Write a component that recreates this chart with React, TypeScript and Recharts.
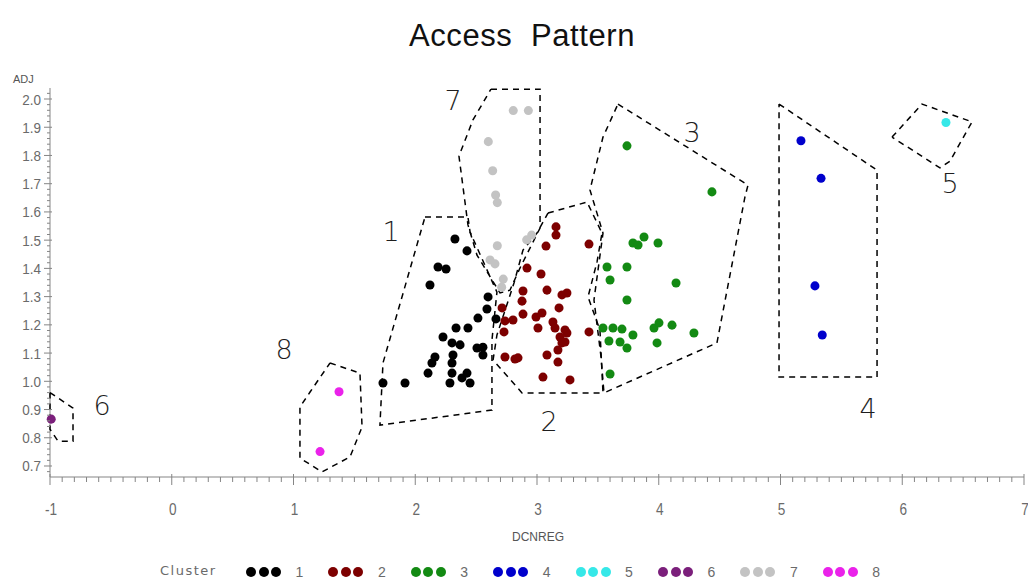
import React from 'react';
import { ScatterChart, Scatter, XAxis, YAxis, ZAxis } from 'recharts';

type Pt = [number, number];

// Cluster identifiers and their marker colours
const clusterNames = ['1', '2', '3', '4', '5', '6', '7', '8'];
const clusterColors = ['#000000', '#7d0000', '#138a13', '#0000cc', '#36e8e8', '#7b1f7b', '#c3c3c3', '#ea22ea'];

// Observations per cluster: [DCNREG, ADJ]
const cluster1: Pt[] = [
  [2.326, 1.504], [2.425, 1.462], [2.187, 1.405], [2.253, 1.398], [2.121, 1.341], [2.598, 1.299],
  [2.589, 1.256], [2.515, 1.224], [2.663, 1.221], [2.335, 1.189], [2.433, 1.189], [2.228, 1.157],
  [2.302, 1.136], [2.368, 1.129], [2.507, 1.118], [2.556, 1.121], [2.31, 1.093], [2.556, 1.093],
  [2.162, 1.086], [2.137, 1.065], [2.302, 1.065], [2.105, 1.029], [2.302, 1.029], [2.425, 1.029],
  [2.384, 1.012], [2.285, 0.994], [2.45, 0.994], [1.916, 0.994], [1.735, 0.994],
];
const cluster2: Pt[] = [
  [3.156, 1.547], [3.156, 1.518], [3.074, 1.479], [3.427, 1.486], [2.918, 1.401], [3.033, 1.38],
  [3.082, 1.323], [2.885, 1.32], [3.205, 1.306], [3.246, 1.313], [2.877, 1.284], [3.181, 1.26],
  [2.713, 1.26], [2.885, 1.238], [3.041, 1.242], [2.992, 1.228], [2.737, 1.214], [2.803, 1.217],
  [3.131, 1.21], [3.008, 1.189], [2.729, 1.175], [3.148, 1.189], [3.23, 1.182], [3.189, 1.157],
  [3.246, 1.171], [3.427, 1.175], [3.205, 1.136], [3.23, 1.139], [3.172, 1.111], [2.737, 1.086],
  [2.819, 1.079], [2.844, 1.083], [3.082, 1.093], [3.172, 1.068], [3.049, 1.015], [3.271, 1.005],
];
const cluster3: Pt[] = [
  [3.739, 1.834], [4.437, 1.671], [3.788, 1.49], [3.83, 1.483], [3.879, 1.511], [3.994, 1.49],
  [3.575, 1.405], [3.739, 1.405], [3.6, 1.359], [4.142, 1.348], [3.739, 1.288], [3.542, 1.189],
  [3.624, 1.189], [3.698, 1.185], [3.788, 1.164], [3.961, 1.189], [4.002, 1.207], [4.109, 1.199],
  [4.289, 1.171], [3.591, 1.143], [3.682, 1.139], [3.739, 1.118], [3.986, 1.136], [3.6, 1.026],
];
const cluster4: Pt[] = [[5.168, 1.852], [5.333, 1.719], [5.283, 1.338], [5.343, 1.164]];
const cluster5: Pt[] = [[6.359, 1.917]];
const cluster6: Pt[] = [[-0.99, 0.866]];
const cluster7: Pt[] = [
  [2.805, 1.959], [2.929, 1.959], [2.6, 1.849], [2.636, 1.746], [2.674, 1.633], [2.66, 1.66],
  [2.674, 1.48], [2.956, 1.518], [2.915, 1.501], [2.614, 1.43], [2.655, 1.416], [2.723, 1.362],
  [2.71, 1.333],
];
const cluster8: Pt[] = [[1.374, 0.963], [1.218, 0.751]];

// Dashed outlines around each cluster
const hull1: Pt[] = [
  [2.08, 1.582], [2.433, 1.582], [2.45, 1.529], [2.671, 1.316], [2.63, 1.146], [2.63, 0.898],
  [1.71, 0.845], [1.735, 1.065],
];
const hull2: Pt[] = [
  [3.09, 1.596], [3.411, 1.635], [3.534, 1.525], [3.493, 1.423], [3.419, 1.299], [3.517, 1.182],
  [3.542, 0.959], [2.877, 0.959], [2.639, 1.075], [2.671, 1.164], [2.811, 1.348], [2.885, 1.465],
  [3.0, 1.525],
];
const hull3: Pt[] = [
  [3.665, 1.982], [4.733, 1.695], [4.708, 1.653], [4.478, 1.136], [3.55, 0.959], [3.526, 1.086],
  [3.468, 1.288], [3.542, 1.525], [3.435, 1.678], [3.542, 1.865],
];
const hull4: Pt[] = [[4.988, 1.982], [5.793, 1.748], [5.793, 1.015], [4.988, 1.015]];
const hull5: Pt[] = [[5.916, 1.865], [6.162, 1.982], [6.573, 1.919], [6.392, 1.78], [6.31, 1.756]];
const hull6: Pt[] = [[-1.0, 0.96], [-0.811, 0.905], [-0.811, 0.788], [-0.934, 0.788], [-1.0, 0.83]];
const hull7: Pt[] = [
  [2.622, 2.035], [3.025, 2.035], [3.025, 1.543], [2.86, 1.401], [2.778, 1.323], [2.696, 1.313],
  [2.507, 1.447], [2.433, 1.554], [2.359, 1.798], [2.474, 1.926],
];
const hull8: Pt[] = [
  [1.3, 1.065], [1.546, 1.029], [1.563, 0.838], [1.464, 0.732], [1.234, 0.679], [1.053, 0.728],
  [1.053, 0.909], [1.136, 0.962],
];

// Where each cluster number is written
const tagPositions: Pt[] = [
  [1.801, 1.529], [3.099, 0.856], [4.273, 1.88], [5.719, 0.905],
  [6.392, 1.702], [-0.573, 0.916], [2.31, 1.996], [0.922, 1.111],
];

const clusterPoints = [cluster1, cluster2, cluster3, cluster4, cluster5, cluster6, cluster7, cluster8];
const clusterHulls = [hull1, hull2, hull3, hull4, hull5, hull6, hull7, hull8];

const xMajorTicks = [-1, 0, 1, 2, 3, 4, 5, 6, 7];
const yMajorTicks = [0.7, 0.8, 0.9, 1.0, 1.1, 1.2, 1.3, 1.4, 1.5, 1.6, 1.7, 1.8, 1.9, 2.0];

// Minor tick positions: tenths along x, fiftieths along y
const xTicks: number[] = [];
for (let k = -10; k <= 70; k++) xTicks.push(k / 10);
const yTicks: number[] = [];
for (let k = 34; k <= 101; k++) yTicks.push(Math.round(k * 2) / 100);

const isMajor = (list: number[], v: number) => list.some((m) => Math.abs(m - v) < 1e-6);

const AXIS_GREY = '#858585';
const LABEL_GREY = '#6a6a6a';
const TICK_FONT = "'Liberation Sans', Arial, sans-serif";

const XTick = (props: any) => {
  const { x, y, payload } = props;
  const major = isMajor(xMajorTicks, payload.value);
  return (
    <g>
      <line x1={x} x2={x} y1={major ? y - 3 : y} y2={y + (major ? 8 : 5)} stroke={AXIS_GREY} strokeWidth={1} />
      {major && (
        <text
          transform={`translate(${x + 1},${y + 38}) scale(0.8,1)`}
          textAnchor="middle"
          fontSize={17}
          fontFamily={TICK_FONT}
          fill={LABEL_GREY}
        >
          {Math.round(payload.value)}
        </text>
      )}
    </g>
  );
};

const YTick = (props: any) => {
  const { x, y, payload } = props;
  const major = isMajor(yMajorTicks, payload.value);
  return (
    <g>
      <line x1={x - (major ? 6 : 3)} x2={major ? x + 2 : x} y1={y} y2={y} stroke={AXIS_GREY} strokeWidth={1} />
      {major && (
        <text
          transform={`translate(${x - 9},${y + 5.5}) scale(0.9,1)`}
          textAnchor="end"
          fontSize={15}
          fontFamily={TICK_FONT}
          fill={LABEL_GREY}
        >
          {payload.value.toFixed(1)}
        </text>
      )}
    </g>
  );
};

const NoMark = () => <g />;

const NumberTag = (props: any) => (
  <text
    x={props.cx}
    y={props.cy}
    textAnchor="middle"
    dominantBaseline="central"
    fontSize={27}
    fontFamily="'DejaVu Sans', 'Liberation Sans', sans-serif"
    fontWeight={300}
    fill="#1e1e1e"
  >
    {props.payload.tag}
  </text>
);

const toRows = (pts: Pt[]) => pts.map(([x, y]) => ({ x, y }));
const closeRing = (pts: Pt[]) => toRows([...pts, pts[0]]);

export default function App() {
  const tagRows = tagPositions.map(([x, y], i) => ({ x, y, tag: clusterNames[i] }));

  return (
    <div style={{ position: 'absolute', left: 0, top: 0, width: 1028, height: 582, background: '#fff' }}>
      <div
        style={{
          position: 'absolute',
          left: 322,
          top: 18,
          width: 400,
          textAlign: 'center',
          fontFamily: "'Liberation Sans', Arial, sans-serif",
          fontSize: 31,
          letterSpacing: 0.6,
          whiteSpace: 'pre',
          color: '#111',
        }}
      >
        {'Access  Pattern'}
      </div>
      <div
        style={{
          position: 'absolute',
          left: 13,
          top: 73,
          fontFamily: TICK_FONT,
          fontSize: 11,
          color: '#555',
        }}
      >
        ADJ
      </div>
      <ScatterChart width={1028} height={582} margin={{ top: 88, right: 4, bottom: 0, left: 0 }}>
        <XAxis
          type="number"
          dataKey="x"
          domain={[-1, 7]}
          ticks={xTicks}
          interval={0}
          height={105}
          stroke={AXIS_GREY}
          tickLine={false}
          tickSize={0}
          tickMargin={0}
          tick={<XTick />}
        />
        <YAxis
          type="number"
          dataKey="y"
          domain={[0.661, 2.039]}
          ticks={yTicks}
          interval={0}
          width={50}
          stroke={AXIS_GREY}
          tickLine={false}
          tickSize={0}
          tickMargin={0}
          tick={<YTick />}
        />
        <ZAxis type="number" range={[82, 82]} />
        {clusterHulls.map((hull, i) => (
          <Scatter
            key={`hull-${i}`}
            data={closeRing(hull)}
            shape={NoMark}
            line={{ stroke: '#000', strokeWidth: 1.5, strokeDasharray: '6 5' }}
            lineType="joint"
            legendType="none"
            isAnimationActive={false}
          />
        ))}
        {clusterPoints.map((pts, i) => (
          <Scatter
            key={`cluster-${i}`}
            name={clusterNames[i]}
            data={toRows(pts)}
            fill={clusterColors[i]}
            isAnimationActive={false}
          />
        ))}
        <Scatter data={tagRows} shape={NumberTag} legendType="none" isAnimationActive={false} />
      </ScatterChart>
      <div
        style={{
          position: 'absolute',
          left: 0,
          width: 1076,
          top: 530,
          textAlign: 'center',
          fontFamily: TICK_FONT,
          fontSize: 12,
          color: '#555',
        }}
      >
        DCNREG
      </div>
      <div
        style={{
          position: 'absolute',
          left: 160,
          top: 563,
          fontFamily: "'DejaVu Sans', sans-serif",
          fontSize: 13,
          letterSpacing: 1.5,
          color: LABEL_GREY,
        }}
      >
        Cluster
      </div>
      {clusterNames.map((name, i) => (
        <div
          key={`legend-${name}`}
          style={{
            position: 'absolute',
            left: 246 + i * 82.4,
            top: 564,
            height: 16,
            display: 'flex',
            alignItems: 'center',
          }}
        >
          {[0, 1, 2].map((d) => (
            <span
              key={d}
              style={{
                display: 'inline-block',
                width: 10,
                height: 10,
                borderRadius: '50%',
                background: clusterColors[i],
                marginRight: 2.5,
              }}
            />
          ))}
          <span
            style={{
              marginLeft: 12,
              fontFamily: TICK_FONT,
              fontSize: 14,
              color: LABEL_GREY,
            }}
          >
            {name}
          </span>
        </div>
      ))}
    </div>
  );
}
